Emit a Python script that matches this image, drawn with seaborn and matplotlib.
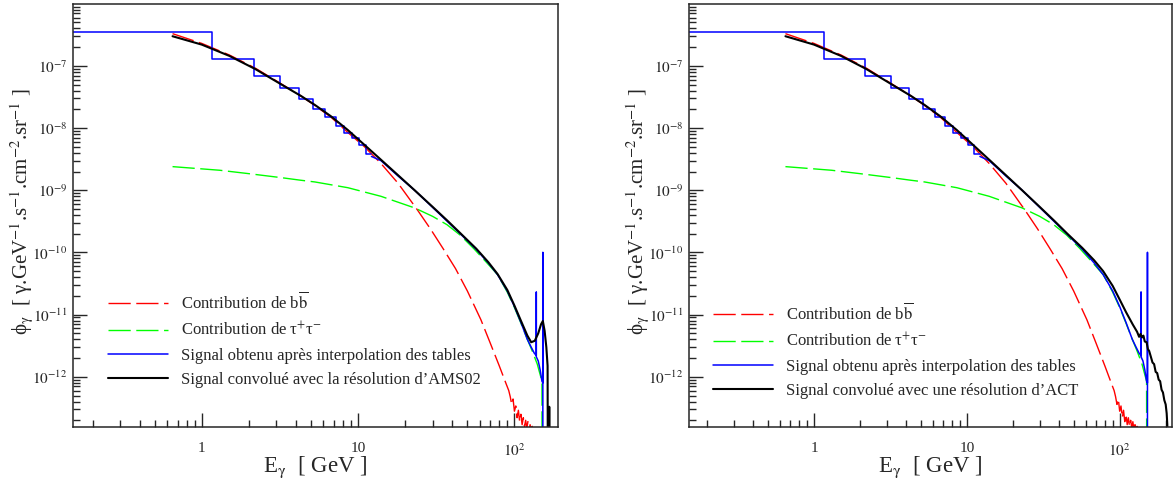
import numpy as np
import pandas as pd
import matplotlib
matplotlib.use("Agg")
import matplotlib.pyplot as plt
import seaborn as sns
from matplotlib.lines import Line2D
from matplotlib.ticker import FixedLocator, FuncFormatter, NullFormatter

# --- values (E in GeV, flux in GeV^-1 s^-1 cm^-2 sr^-1) ---
# b bbar contribution (red dashed)
bb_E = [0.65, 1.0, 1.5, 2.2, 3.2, 4.3, 5.3, 6.7, 8.6, 11, 14, 18, 24, 29, 35, 42, 50, 61, 70, 80,
        88, 92, 94, 96, 98, 100, 102, 104, 106, 108, 110, 112, 114, 116, 118, 120, 122, 124, 126,
        128, 130, 132]
bb_flux = [3.3e-7, 2.3e-7, 1.5e-7, 9.2e-8, 5.2e-8, 3.3e-8, 2.3e-8, 1.5e-8, 8.5e-9, 5.0e-9, 2.7e-9,
           1.3e-9, 4.8e-10, 2.4e-10, 1.15e-10, 5.5e-11, 2.4e-11, 8.3e-12, 3.5e-12, 1.5e-12,
           8e-13, 6e-13, 4.8e-13, 3.6e-13, 4.4e-13, 2.8e-13, 3.4e-13, 2.2e-13, 2.9e-13, 1.9e-13,
           2.5e-13, 1.7e-13, 2.2e-13, 1.6e-13, 2.0e-13, 1.5e-13, 1.9e-13, 1.4e-13, 1.7e-13,
           1.3e-13, 1.6e-13, 1e-15]

# tau+ tau- contribution (green dashed)
tau_E = [0.65, 1.3, 2.0, 3.2, 4.3, 5.3, 8.6, 14, 23, 30, 37, 45, 55, 65, 78, 90, 100, 110, 121,
         130, 140, 150, 150.5]
tau_flux = [2.4e-9, 2.1e-9, 1.85e-9, 1.6e-9, 1.45e-9, 1.36e-9, 1.1e-9, 8.0e-10, 5.2e-10, 3.8e-10,
            2.8e-10, 1.9e-10, 1.15e-10, 7.3e-11, 4.4e-11, 2.3e-11, 1.3e-11, 7.3e-12, 4.0e-12,
            2.6e-12, 1.6e-12, 8.5e-13, 1e-15]

# interpolated tables (blue): 1 GeV histogram bins at low energy, then the tail
hist_edges = [0.1, 1.17, 2.17, 3.17, 4.17, 5.17, 6.17, 7.17, 8.17, 9.17, 10.17, 11.17, 12.17]
hist_flux = [3.5e-7, 1.3e-7, 6.9e-8, 4.4e-8, 2.9e-8, 2.0e-8, 1.5e-8, 1.1e-8, 8.3e-9, 6.9e-9,
             5.3e-9, 3.8e-9]
tail_E = [12.17, 14, 18, 23, 30, 37, 45, 57, 68, 78, 90, 100, 110, 121, 128, 134, 138, 138, 138,
          142, 146, 150, 152, 152, 152]
tail_flux = [3.5e-9, 3.0e-9, 1.7e-9, 1.0e-9, 5.3e-10, 3.2e-10, 2.0e-10, 1.12e-10, 6.8e-11, 4.4e-11,
             2.4e-11, 1.35e-11, 7.5e-12, 4.0e-12, 3.0e-12, 2.4e-12, 2.2e-12, 2.3e-11, 2.1e-12,
             1.8e-12, 1.3e-12, 8.5e-13, 8.0e-13, 1.0e-10, 1e-15]

# convolved with AMS02 resolution (black, left)
ams_E = [0.65, 1.0, 1.5, 2.2, 3.2, 4.3, 5.3, 6.7, 8.6, 11, 14, 18, 23, 30, 37, 45, 57, 68, 78, 90,
         100, 110, 121, 128, 135, 142, 148, 152, 156, 160, 163, 164, 166.5, 167, 167.5]
ams_flux = [3.0e-7, 2.2e-7, 1.45e-7, 8.9e-8, 5.1e-8, 3.3e-8, 2.35e-8, 1.55e-8, 9.3e-9, 5.35e-9,
            3.1e-9, 1.75e-9, 1.0e-9, 5.4e-10, 3.3e-10, 2.05e-10, 1.15e-10, 7.0e-11, 4.5e-11, 2.5e-11,
            1.4e-11, 8.0e-12, 4.6e-12, 3.6e-12, 3.8e-12, 5.0e-12, 7.0e-12, 7.9e-12, 5.5e-12,
            3.0e-12, 1.5e-12, 1e-15, 1e-15, 3.3e-13, 1e-15]

# convolved with an ACT resolution (black, right)
act_E = [0.65, 1.0, 1.5, 2.2, 3.2, 4.3, 5.3, 6.7, 8.6, 11, 14, 18, 23, 30, 37, 45, 57, 68, 78, 90,
         100, 110, 122, 130, 134, 137, 140, 143, 146, 150, 153, 156, 160, 164, 168, 172, 176, 180,
         184, 188, 192, 196, 200, 203, 205, 206]
act_flux = [3.0e-7, 2.2e-7, 1.45e-7, 8.9e-8, 5.1e-8, 3.3e-8, 2.35e-8, 1.55e-8, 9.3e-9, 5.35e-9,
            3.1e-9, 1.75e-9, 1.0e-9, 5.4e-10, 3.3e-10, 2.05e-10, 1.18e-10, 7.5e-11, 5.0e-11, 2.9e-11,
            1.75e-11, 1.1e-11, 6.9e-12, 5.3e-12, 4.4e-12, 4.9e-12, 4.3e-12, 4.6e-12, 3.7e-12,
            3.6e-12, 2.8e-12, 2.6e-12, 2.1e-12, 1.7e-12, 1.6e-12, 1.2e-12, 1.15e-12, 9e-13,
            8.5e-13, 6.2e-13, 5.6e-13, 4.2e-13, 3.6e-13, 2.6e-13, 1.7e-13, 1e-15]

labels_common = ["Contribution de b$\\overline{\\mathrm{b}}$",
                 "Contribution de τ$^{+}$τ$^{-}$",
                 "Signal obtenu après interpolation des tables"]
label_ams = "Signal convolué avec la résolution d’AMS02"
label_act = "Signal convolué avec une résolution d’ACT"

y_major = [1e-12, 1e-11, 1e-10, 1e-9, 1e-8, 1e-7]
x_major = [1, 10, 100]

# --- style ---
sns.set_style("ticks")
plt.rcParams['font.family'] = ['Liberation Serif', 'DejaVu Serif']
plt.rcParams['mathtext.fontset'] = 'stix'
plt.rcParams['axes.linewidth'] = 1.1

W, H = 1174, 487
fig = plt.figure(figsize=(W / 100, H / 100), dpi=100)

dash = (0, (16, 4))
YLIM = (1.56e-13, 9.9e-7)


def x_fmt(v, pos):
    if v == 1:
        return "1"
    if v == 10:
        return "10"
    return "$10^{%d}$" % round(np.log10(v))


def y_fmt(v, pos):
    return "$10^{%d}$" % round(np.log10(v))


def minors(lo, hi):
    out = []
    for d in range(-14, 4):
        for m in range(2, 10):
            v = m * 10.0 ** d
            if lo < v < hi:
                out.append(v)
    return out


def draw_panel(rect, xlim, conv_E, conv_flux, conv_label, leg_xy):
    ax = fig.add_axes([rect[0] / W, 1 - rect[3] / H, (rect[2] - rect[0]) / W, (rect[3] - rect[1]) / H])

    bb = pd.DataFrame({"E": bb_E, "flux": bb_flux})
    tau = pd.DataFrame({"E": tau_E, "flux": tau_flux})
    steps = pd.DataFrame({"E": hist_edges, "flux": hist_flux + [hist_flux[-1]]})
    tail = pd.DataFrame({"E": tail_E, "flux": tail_flux})
    conv = pd.DataFrame({"E": conv_E, "flux": conv_flux})

    sns.lineplot(data=bb, x="E", y="flux", estimator=None, sort=False, ax=ax,
                 color="#ff0000", lw=1.0, linestyle=dash)
    sns.lineplot(data=tau, x="E", y="flux", estimator=None, sort=False, ax=ax,
                 color="#00ff00", lw=1.0, linestyle=dash)
    sns.lineplot(data=steps, x="E", y="flux", estimator=None, sort=False, ax=ax,
                 color="#0000ff", lw=1.1, drawstyle="steps-post")
    sns.lineplot(data=tail, x="E", y="flux", estimator=None, sort=False, ax=ax,
                 color="#0000ff", lw=1.1)
    sns.lineplot(data=conv, x="E", y="flux", estimator=None, sort=False, ax=ax,
                 color="black", lw=1.5)

    ax.set_xscale("log")
    ax.set_yscale("log")
    ax.set_xlim(*xlim)
    ax.set_ylim(*YLIM)
    ax.set_xlabel("")
    ax.set_ylabel("")

    ax.xaxis.set_major_locator(FixedLocator(x_major))
    ax.xaxis.set_minor_locator(FixedLocator(minors(*xlim)))
    ax.xaxis.set_major_formatter(FuncFormatter(x_fmt))
    ax.xaxis.set_minor_formatter(NullFormatter())
    ax.yaxis.set_major_locator(FixedLocator(y_major))
    ax.yaxis.set_minor_locator(FixedLocator(minors(*YLIM)))
    ax.yaxis.set_major_formatter(FuncFormatter(y_fmt))
    ax.yaxis.set_minor_formatter(NullFormatter())
    ax.tick_params(which="both", direction="in", top=False, right=False, labelsize=11)
    ax.tick_params(axis="x", pad=11)
    ax.tick_params(axis="y", pad=4)
    ax.tick_params(which="major", length=10, width=1.0)
    ax.tick_params(which="minor", length=5, width=1.0)
    for s in ax.spines.values():
        s.set_visible(True)

    handles = [Line2D([], [], color="#ff0000", lw=1.0, linestyle=dash),
               Line2D([], [], color="#00ff00", lw=1.0, linestyle=dash),
               Line2D([], [], color="#0000ff", lw=1.1),
               Line2D([], [], color="black", lw=1.5)]
    ax.legend(handles, labels_common + [conv_label], loc="upper left",
              bbox_to_anchor=leg_xy, frameon=False, fontsize=12, borderpad=0,
              borderaxespad=0, handlelength=3.6, handletextpad=0.8, labelspacing=0.5)

    cx = (rect[0] + rect[2]) / 2
    fig.text(cx / W, 1 - 467 / H, "E$_{\\mathrm{γ}}$  [ GeV ]", ha="center", va="center", fontsize=16.5)
    fig.text((rect[0] - 51) / W, 1 - 212 / H,
             "ϕ$_{\\mathrm{γ}}$  [ γ.GeV$^{-1}$.s$^{-1}$.cm$^{-2}$.sr$^{-1}$ ]",
             ha="center", va="center", rotation=90, fontsize=15)
    return ax


draw_panel((73, 4, 558, 427), (0.15, 190), ams_E, ams_flux, label_ams, (0.072, 0.32))
draw_panel((689, 4, 1172, 427), (0.152, 220), act_E, act_flux, label_act, (0.05, 0.294))

fig.savefig("out.png", dpi=100)
